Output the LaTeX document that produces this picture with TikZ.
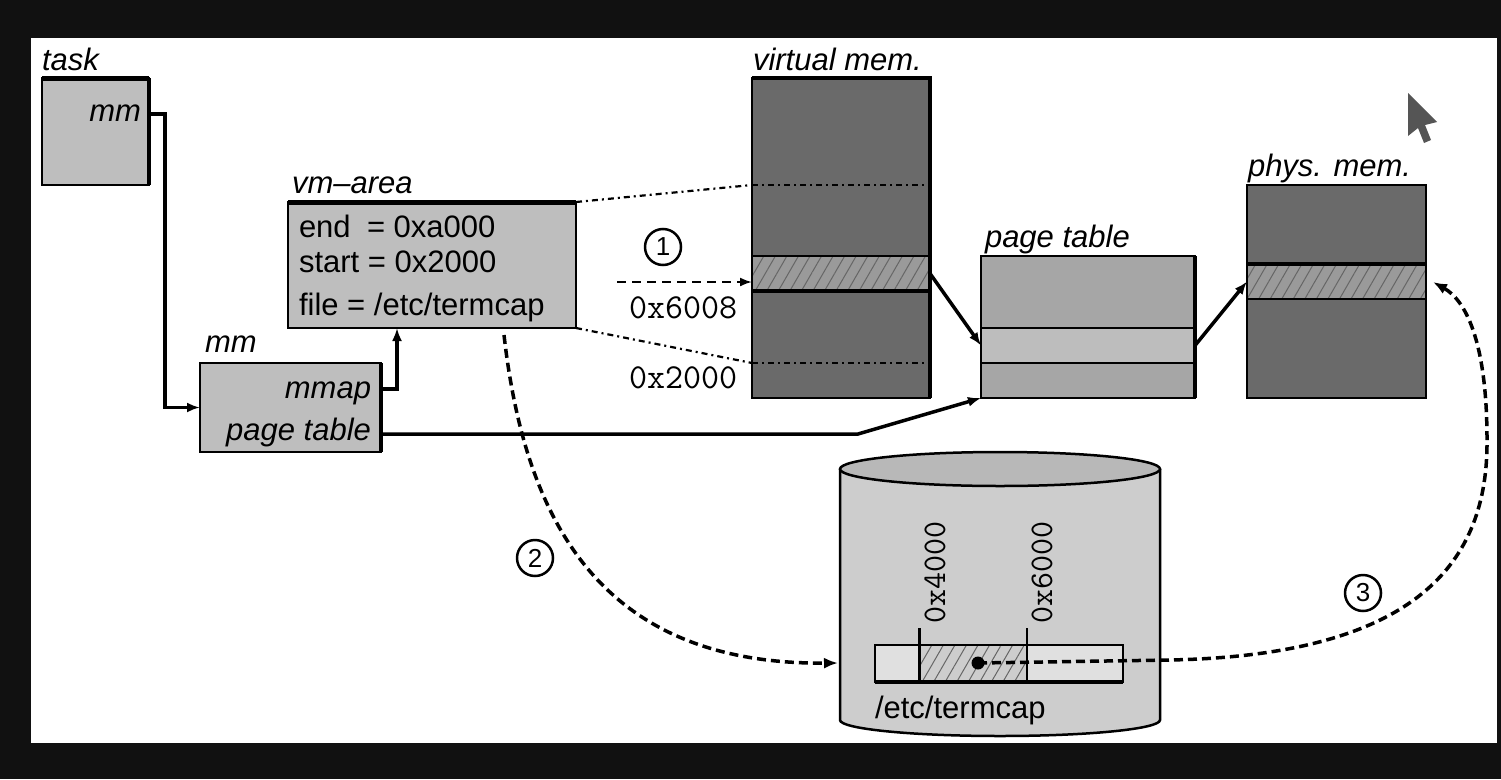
\documentclass[tikz,border=0pt]{standalone}
\usepackage{fontspec}
\setmainfont{Liberation Sans}
\usetikzlibrary{arrows.meta,patterns.meta}
\definecolor{framec}{HTML}{111111}
\definecolor{boxgray}{HTML}{BEBEBE}
\definecolor{vmdark}{HTML}{6A6A6A}
\definecolor{bandgray}{HTML}{9A9A9A}
\definecolor{ptgray}{HTML}{A6A6A6}
\definecolor{ptlight}{HTML}{BDBDBD}
\definecolor{cylbody}{HTML}{CDCDCD}
\definecolor{cyltop}{HTML}{B8B8B8}
\definecolor{barfill}{HTML}{E0E0E0}
\definecolor{cursorc}{HTML}{555555}
\tikzset{
  lbox/.style={draw=black, line width=2.5pt, fill=boxgray, inner sep=0pt, outer sep=0pt, anchor=north west},
  area/.style={draw=none, inner sep=0pt, outer sep=0pt, anchor=north west},
  txt/.style={inner sep=0pt, outer sep=0pt, font=\fontsize{31}{31}\selectfont},
  itxt/.style={inner sep=0pt, outer sep=0pt, font=\fontsize{31}{31}\selectfont\itshape},
  mono/.style={inner sep=0pt, outer sep=0pt, font=\fontsize{35}{35}\selectfont\ttfamily},
  rmono/.style={inner sep=0pt, outer sep=0pt, font=\fontsize{33}{33}\selectfont\ttfamily},
  circ/.style={circle, draw, line width=2.5pt, minimum size=36pt, inner sep=0pt, font=\fontsize{26}{26}\selectfont},
  conn/.style={line width=3.5pt, -{Latex[length=13pt,width=10pt]}},
  dconn/.style={line width=3.5pt, dash pattern=on 9pt off 5pt, -{Latex[length=14pt,width=11pt]}},
  tconn/.style={line width=2pt, dash pattern=on 9pt off 6pt, -{Latex[length=12pt,width=9pt]}},
  proj/.style={line width=2.2pt, dash pattern=on 6pt off 4pt on 2pt off 4pt},
  hatch/.style={pattern={Lines[angle=60,distance=10pt,line width=1pt]}, pattern color=black!60},
}
\begin{document}
\begin{tikzpicture}[x=1pt,y=-1pt]
\fill[framec] (0,0) rectangle (1501,779);
\fill[white] (31,38) rectangle (1497,743);

% task
\node[itxt, anchor=base west] (tasklab) at (42,70) {task};
\node[lbox, minimum width=107pt, minimum height=107pt] (task) at (42,78) {};
\draw[line width=5pt] (task.north west) -- (task.north east);
\draw[line width=4pt] (task.north east) -- (task.south east);
\node[itxt, anchor=base east] (taskmm) at (141,121) {mm};

% mm box
\node[itxt, anchor=base west] (mmlab) at (205,352) {mm};
\node[lbox, minimum width=181pt, minimum height=89pt] (mmbox) at (200,363) {};
\draw[line width=4pt] (mmbox.north east) -- (mmbox.south east);
\node[itxt, anchor=base east] (mmap) at (371,398) {mmap};
\node[itxt, anchor=base east] (mmpt) at (371,440) {page table};

% vm-area
\node[itxt, anchor=base west] (vmalab) at (292,193) {vm--area};
\node[lbox, minimum width=288pt, minimum height=126pt] (vmarea) at (288,202) {};
\draw[line width=5pt] (vmarea.north west) -- (vmarea.north east);
\node[txt, anchor=base west] (vend) at (299,237) {end};
\node[txt, anchor=base west] (vendv) at (367,237) {= 0xa000};
\node[txt, anchor=base west] (vstart) at (299,272) {start = 0x2000};
\node[txt, anchor=base west] (vfile) at (299,315) {file = /etc/termcap};

% virtual memory
\node[itxt, anchor=base west] (vmlab) at (753,70) {virtual mem.};
\node[area, fill=vmdark, minimum width=178pt, minimum height=320pt] (vmem) at (752,78) {};
\node[area, fill=bandgray, minimum width=178pt, minimum height=35pt] (vmband) at (752,256) {};
\fill[hatch] (vmband.north west) rectangle (vmband.south east);
\draw[line width=1.5pt] (vmband.north west) -- (vmband.north east);
\draw[line width=4.5pt] (vmband.south west) -- (vmband.south east);
\coordinate (vmtop) at (752,185);
\coordinate (vmbot) at (752,363);
\draw[proj] (vmtop) -- (vmtop -| vmem.east);
\draw[proj] (vmbot) -- (vmbot -| vmem.east);
\draw[line width=2.5pt] (vmem.north west) rectangle (vmem.south east);
\draw[line width=4.5pt] (vmem.north west) -- (vmem.north east) -- (vmem.south east);

% projection lines
\draw[proj] (vmarea.north east) -- (vmtop);
\draw[proj] (vmarea.south east) -- (vmbot);

% step 1
\node[circ] (n1) at (663,247) {1};
\coordinate (a1) at (617,282);
\draw[tconn] (a1) -- (vmband.west |- a1);
\node[mono, anchor=base west] (o6008) at (629,318) {0x6008};
\node[mono, anchor=base west] (o2000) at (629,388) {0x2000};

% page table
\node[itxt, anchor=base west] (ptlab) at (985,247) {page table};
\node[area, fill=ptgray, minimum width=214pt, minimum height=142pt] (pt) at (981,256) {};
\node[area, fill=ptlight, minimum width=214pt, minimum height=35pt] (ptmid) at (981,328) {};
\draw[line width=2pt] (ptmid.north west) -- (ptmid.north east) (ptmid.south west) -- (ptmid.south east);
\draw[line width=2.5pt] (pt.north west) rectangle (pt.south east);
\draw[line width=4.5pt] (pt.north east) -- (pt.south east);

% physical memory
\node[itxt, anchor=base west] (pmlab) at (1248,176) {phys. mem.};
\node[area, fill=vmdark, minimum width=179pt, minimum height=213pt] (pm) at (1247,185) {};
\node[area, fill=bandgray, minimum width=179pt, minimum height=35pt] (pmband) at (1247,264) {};
\fill[hatch] (pmband.north west) rectangle (pmband.south east);
\draw[line width=4.5pt] (pmband.north west) -- (pmband.north east);
\draw[line width=2pt] (pmband.south west) -- (pmband.south east);
\draw[line width=2.5pt] (pm.north west) rectangle (pm.south east);

% solid connectors
\coordinate (tasky) at (0,114);
\draw[conn] (task.east |- tasky) -- ++(16,0) |- (mmbox.west);
\coordinate (mmapy) at (0,389);
\coordinate (vmin) at (397,328);
\draw[conn] (mmbox.east |- mmapy) -| (vmin);
\coordinate (pty) at (0,434);
\coordinate (bend1) at (858,434);
\draw[conn] (mmbox.east |- pty) -- (bend1) -- (pt.south west);
\draw[conn] (vmband.east) -- (ptmid.west);
\draw[conn] (ptmid.east) -- (pmband.west);

% disk cylinder
\fill[cylbody] (840,469) -- (840,720) arc[start angle=180,end angle=360,x radius=160pt,y radius=16pt] -- (1160,469) -- cycle;
\draw[line width=2.5pt] (840,469) -- (840,720) arc[start angle=180,end angle=360,x radius=160pt,y radius=16pt] -- (1160,469);
\draw[line width=2.5pt, fill=cyltop] (1000,469) ellipse [x radius=160pt, y radius=17pt];

% file bar
\node[area, fill=barfill, minimum width=248pt, minimum height=37pt] (bar) at (875,645) {};
\fill[cylbody] (919,645) rectangle (1027,682);
\fill[hatch] (919,645) rectangle (1027,682);
\draw[line width=2pt] (bar.north west) rectangle (bar.south east);
\draw[line width=4pt] (bar.south west) -- (bar.south east);
\coordinate (m4) at (919,628);
\coordinate (m6) at (1027,628);
\draw[line width=3pt] (m4) -- (m4 |- bar.south);
\draw[line width=2pt] (m6) -- (m6 |- bar.south);
\node[rmono, rotate=90, anchor=west] (l4) at (935,623) {0x4000};
\node[rmono, rotate=90, anchor=west] (l6) at (1042,623) {0x6000};
\node[circle, fill=black, minimum size=13pt, inner sep=0pt] (dot) at (978,663) {};
\node[txt, anchor=base west] (fname) at (875,718) {/etc/termcap};

% step 2
\coordinate (c2s) at (504,335);
\coordinate (c2e) at (838,663);
\draw[dconn] (c2s) .. controls (525,520) and (600,665) .. (c2e);
\node[circ] (n2) at (535,558) {2};

% step 3
\coordinate (c3a) at (1170,660);
\coordinate (c3b) at (1487,440);
\coordinate (c3e) at (1433,282);
\draw[dconn] (dot.center) -- (c3a) .. controls (1420,655) and (1488,560) .. (c3b) .. controls (1487,340) and (1465,300) .. (c3e);
\node[circ] (n3) at (1363,593) {3};

% mouse pointer
\fill[cursorc] (1408,93) -- (1437,122) -- (1425,125) -- (1431,140) -- (1424,143) -- (1418,128) -- (1408,136) -- cycle;
\end{tikzpicture}
\end{document}
